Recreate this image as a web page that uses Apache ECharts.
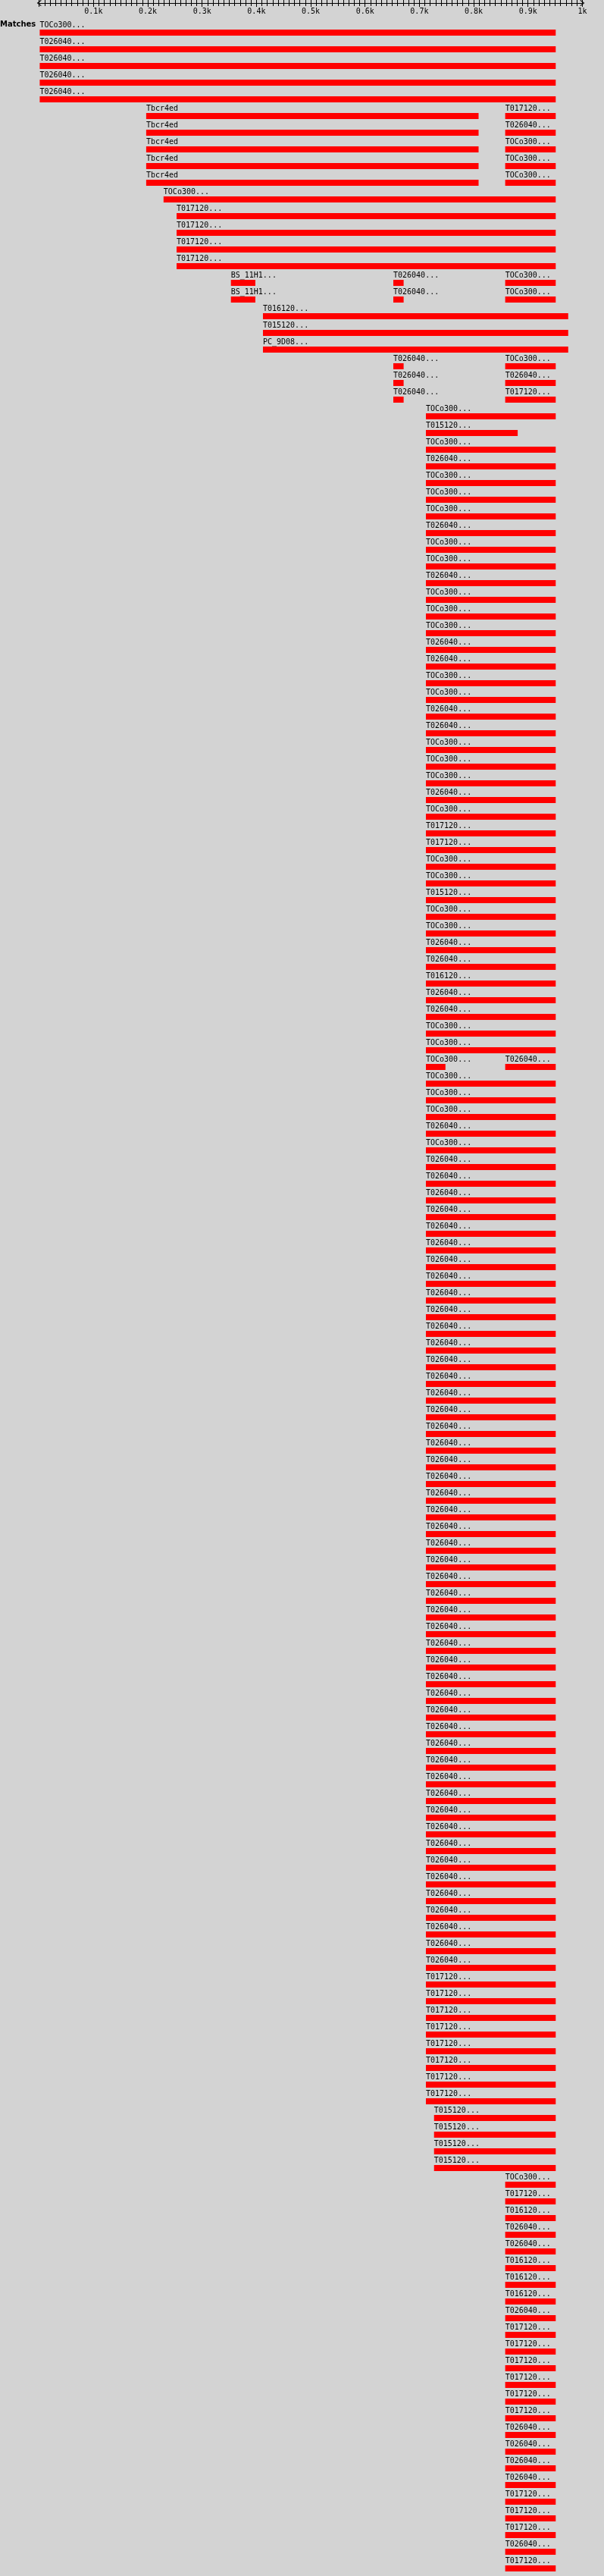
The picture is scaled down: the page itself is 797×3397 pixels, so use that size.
<!DOCTYPE html>
<html>
<head>
<meta charset="utf-8">
<script src="https://cdn.jsdelivr.net/npm/echarts@6/dist/echarts.min.js"></script>
<style>
html,body{margin:0;padding:0;background:#d3d3d3;}
#chart{width:797px;height:3397px;}
</style>
</head>
<body>
<div id="chart"></div>
<script>
// Subject names of the hits
const subjects = ['TOCo300...','T026040...','T017120...','T015120...','T016120...','Tbcr4ed','BS_11H1...','PC_9D08...'];

// Axis tick labels (query position, in k)
const tickLabels = ['','0.1k','0.2k','0.3k','0.4k','0.5k','0.6k','0.7k','0.8k','0.9k','1k'];

// Row of each hit (1-based)
const hitRow = [
1,2,3,4,5,
6,6,7,7,8,8,9,9,10,10,
11,12,13,14,15,
16,16,16,17,17,17,
18,19,20,
21,21,22,22,23,23,
24,25,26,27,28,29,30,31,32,33,
34,35,36,37,38,39,40,41,42,43,
44,45,46,47,48,49,50,51,52,53,
54,55,56,57,58,59,60,61,62,63,63,
64,65,66,67,68,69,70,71,72,73,
74,75,76,77,78,79,80,81,82,83,
84,85,86,87,88,89,90,91,92,93,
94,95,96,97,98,99,100,101,102,103,
104,105,106,107,108,109,110,111,112,113,
114,115,116,117,118,119,120,121,122,123,
124,125,126,127,128,129,
130,131,132,133,134,135,136,137,138,139,
140,141,142,143,144,145,146,147,148,149,
150,151,152,153
];

// Subject index of each hit
const hitName = [
0,1,1,1,1,
5,2,5,1,5,0,5,0,5,0,
0,2,2,2,2,
6,1,0,6,1,0,
4,3,7,
1,0,1,1,1,2,
0,3,0,1,0,0,0,1,0,0,
1,0,0,0,1,1,0,0,1,1,
0,0,0,1,0,2,2,0,0,3,
0,0,1,1,4,1,1,0,0,0,1,
0,0,0,1,0,1,1,1,1,1,
1,1,1,1,1,1,1,1,1,1,
1,1,1,1,1,1,1,1,1,1,
1,1,1,1,1,1,1,1,1,1,
1,1,1,1,1,1,1,1,1,1,
1,1,1,1,2,2,2,2,2,2,
2,2,3,3,3,3,
0,2,4,1,1,4,4,4,1,2,
2,2,2,2,2,1,1,1,1,2,
2,2,1,2
];

// Alignment start on the query
const hitStart = [
1,1,1,1,1,
197,858,197,858,197,858,197,858,197,858,
229,253,253,253,253,
353,652,858,353,652,858,
412,412,412,
652,858,652,858,652,858,
712,712,712,712,712,712,712,712,712,712,
712,712,712,712,712,712,712,712,712,712,
712,712,712,712,712,712,712,712,712,712,
712,712,712,712,712,712,712,712,712,712,858,
712,712,712,712,712,712,712,712,712,712,
712,712,712,712,712,712,712,712,712,712,
712,712,712,712,712,712,712,712,712,712,
712,712,712,712,712,712,712,712,712,712,
712,712,712,712,712,712,712,712,712,712,
712,712,712,712,712,712,712,712,712,712,
712,712,727,727,727,727,
858,858,858,858,858,858,858,858,858,858,
858,858,858,858,858,858,858,858,858,858,
858,858,858,858
];

// Alignment end on the query
const hitEnd = [
951,951,951,951,951,
809,951,809,951,809,951,809,951,809,951,
951,951,951,951,951,
398,671,951,398,671,951,
974,974,974,
671,951,671,951,671,951,
951,881,951,951,951,951,951,951,951,951,
951,951,951,951,951,951,951,951,951,951,
951,951,951,951,951,951,951,951,951,951,
951,951,951,951,951,951,951,951,951,748,951,
951,951,951,951,951,951,951,951,951,951,
951,951,951,951,951,951,951,951,951,951,
951,951,951,951,951,951,951,951,951,951,
951,951,951,951,951,951,951,951,951,951,
951,951,951,951,951,951,951,951,951,951,
951,951,951,951,951,951,951,951,951,951,
951,951,951,951,951,951,
951,951,951,951,951,951,951,951,951,951,
951,951,951,951,951,951,951,951,951,951,
951,951,951,951
];

const nRows = 153;
const rowCats = [];
for (let i = 1; i <= nRows; i++) rowCats.push(String(i));

const data = hitRow.map((r, i) => [hitStart[i], r - 1, hitEnd[i], hitName[i]]);

const FONT = '10px "DejaVu Sans Mono"';
const arrow = 'path://M4,0L8,5.2L7.2,6L4,1.6L0.8,6L0,5.2Z';

function renderItem(params, api) {
  const s = api.value(0), row = api.value(1), e = api.value(2);
  const name = subjects[api.value(3)];
  const p0 = api.coord([s, row]);
  const p1 = api.coord([e, row]);
  const band = api.size([0, 1])[1];
  const barH = 8;
  const barTop = p0[1] + band / 2 - barH;
  return {
    type: 'group',
    children: [
      { type: 'rect', shape: { x: p0[0], y: barTop, width: p1[0] - p0[0], height: barH }, style: { fill: '#ff0000' } },
      { type: 'text', x: p0[0], y: barTop - 6, style: { text: name, font: FONT, fill: '#000', align: 'left', verticalAlign: 'middle' } }
    ]
  };
}

const chart = echarts.init(document.getElementById('chart'), null, { renderer: 'canvas' });
chart.setOption({
  backgroundColor: '#d3d3d3',
  animation: false,
  grid: { left: 51.7, top: 25, width: 716.7, height: 22 * nRows },
  graphic: [
    { type: 'text', x: 0, y: 32.5, style: { text: 'Matches', font: 'bold 10px "DejaVu Sans"', fill: '#000', verticalAlign: 'middle' } }
  ],
  xAxis: [
    {
      type: 'value', min: 0, max: 1000, interval: 10, position: 'top', offset: 21,
      axisLine: { show: true, lineStyle: { color: '#000', width: 1 }, symbol: [arrow, arrow], symbolSize: [8, 6] },
      axisTick: { show: true, inside: false, length: 4, interval: 0, lineStyle: { color: '#000' } },
      axisLabel: { show: false },
      splitLine: { show: false }
    },
    {
      type: 'value', min: 0, max: 1000, interval: 100, position: 'top', offset: 21,
      axisLine: { show: false },
      axisTick: { show: true, inside: true, length: 5, lineStyle: { color: '#000' } },
      minorTick: { show: true, splitNumber: 10, length: 4, lineStyle: { color: '#000' } },
      axisLabel: {
        show: true, inside: true, margin: 6, color: '#000', fontFamily: 'DejaVu Sans Mono', fontSize: 10,
        formatter: function (v) { return tickLabels[Math.round(v / 100)] || ''; }
      },
      splitLine: { show: false }
    }
  ],
  yAxis: { type: 'category', data: rowCats, inverse: true, show: false },
  series: [{
    type: 'custom', xAxisIndex: 0, yAxisIndex: 0,
    renderItem: renderItem,
    encode: { x: [0, 2], y: 1 },
    data: data
  }]
});
</script>
</body>
</html>
